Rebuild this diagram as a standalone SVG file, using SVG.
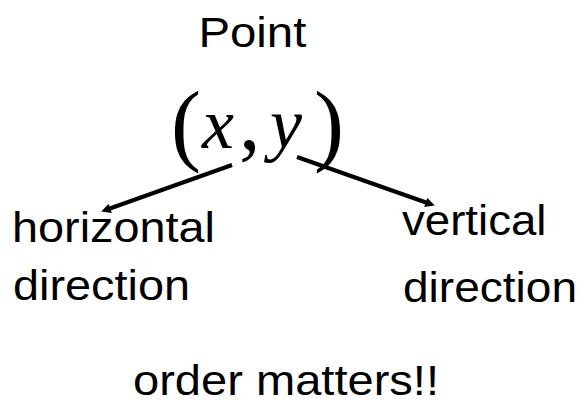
<svg xmlns="http://www.w3.org/2000/svg" width="578" height="406" viewBox="0 0 578 406">
<defs>
<style>
.lbl{font-family:"Liberation Sans",Arial,sans-serif;font-size:43px;fill:#000}
.math{font-family:"Liberation Serif","Times New Roman",serif;fill:#000}
.arr{stroke:#000;stroke-width:4;fill:none;marker-end:url(#ah)}
</style>
<marker id="ah" viewBox="0 0 10 10" refX="5" refY="5" markerWidth="3" markerHeight="2.4" orient="auto" markerUnits="strokeWidth">
<path d="M0,0 L10,5 L0,10 z" fill="#000"/>
</marker>
</defs>
<rect width="578" height="406" fill="#fff"/>
<g id="title"><text class="lbl" x="198.4" y="47" textLength="108" lengthAdjust="spacingAndGlyphs">Point</text></g>
<g id="point">
<text class="math" x="171" y="154" font-size="90">(</text>
<text class="math" x="202" y="148" font-size="72" font-style="italic">x</text>
<text class="math" x="239" y="149" font-size="86">,</text>
<text class="math" x="270" y="148" font-size="72" font-style="italic">y</text>
<text class="math" x="314" y="154" font-size="90">)</text>
</g>
<g id="horizontal">
<text class="lbl" x="12" y="242" textLength="203" lengthAdjust="spacingAndGlyphs">horizontal</text>
<text class="lbl" x="13" y="300" textLength="177" lengthAdjust="spacingAndGlyphs">direction</text>
</g>
<g id="vertical">
<text class="lbl" x="402" y="235" textLength="144.5" lengthAdjust="spacingAndGlyphs">vertical</text>
<text class="lbl" x="403" y="302" textLength="174" lengthAdjust="spacingAndGlyphs">direction</text>
</g>
<g id="note"><text class="lbl" x="133" y="395" textLength="306" lengthAdjust="spacingAndGlyphs">order matters!!</text></g>
<g id="connectors">
<line class="arr" x1="232" y1="165" x2="105.7" y2="210"/>
<line class="arr" x1="297" y1="157" x2="430.3" y2="204"/>
</g>
</svg>
